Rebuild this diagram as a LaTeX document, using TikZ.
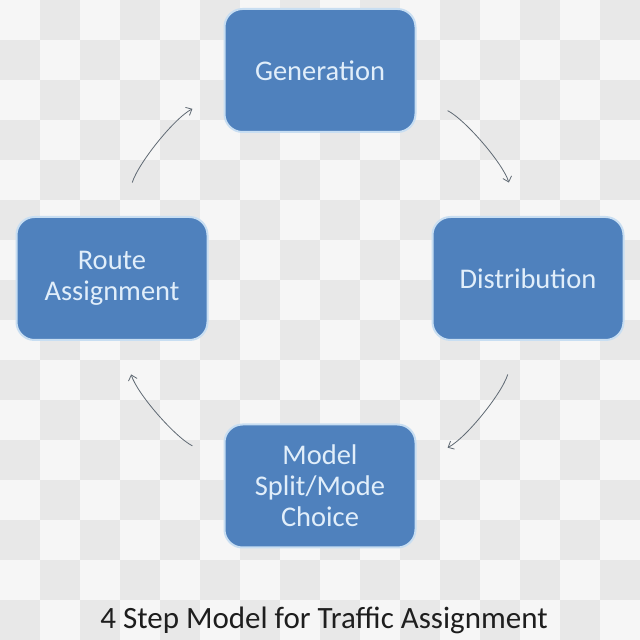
\documentclass[tikz,border=0pt]{standalone}
\usepackage{fontspec}
\setmainfont{Carlito}
\usetikzlibrary{arrows.meta}
\definecolor{boxblue}{RGB}{79,129,189}
\definecolor{boxedge}{RGB}{200,222,242}
\definecolor{boxtext}{RGB}{225,238,250}
\definecolor{flowgray}{RGB}{95,105,115}
\definecolor{titleblack}{RGB}{30,30,30}
\definecolor{checkdark}{RGB}{232,232,232}
\definecolor{checklight}{RGB}{246,246,246}
\tikzset{
    stepbox/.style={rectangle, rounded corners=18pt, fill=boxblue, draw=boxedge,
        line width=2pt, minimum width=191pt, minimum height=123pt, inner sep=0pt,
        align=center, text=boxtext, font=\fontsize{28.5}{31}\selectfont},
    flow/.style={draw=flowgray, line width=0.8pt, -{Straight Barb[length=5pt,width=9pt]},
        shorten <=35pt, shorten >=35pt, looseness=0.886},
}

\begin{document}
\begin{tikzpicture}[x=1pt, y=1pt]
    	% Background:
    	\useasboundingbox (0,0) rectangle (640,640);
    	\fill[checklight] (0,0) rectangle (640,640);
    	\foreach \i in {0,...,15}
    	    \foreach \j in {0,...,15}{
    	        \pgfmathtruncatemacro{\odd}{mod(\i+\j,2)}
    	        \ifnum\odd=1 \fill[checkdark] (40*\i, 600-40*\j) rectangle ++(40,40); \fi
    	    }
    	% Steps and arrows:
    	\node[stepbox] (gen) at (320, 569.5){Generation};
    	\node[stepbox] (dist) at (528, 361.5){Distribution};
    	\node[stepbox] (model) at (320, 154){Model\\Split/Mode\\Choice};
    	\node[stepbox] (route) at (112, 361.5){Route\\Assignment};
    	\draw[flow] (route.81.4) to[out=72.8, in=207.3] (gen.193.7);
    	\draw[flow] (gen.346.3) to[out=-27.3, in=107.2] (dist.98.6);
    	\draw[flow] (dist.261.4) to[out=252.8, in=27.3] (model.13.7);
    	\draw[flow] (model.166.3) to[out=152.7, in=287.2] (route.278.6);
    	\node[anchor=base, text=titleblack, font=\fontsize{31}{35}\selectfont] (title) at (324, 12){4 Step Model for Traffic Assignment};
    \end{tikzpicture}
\end{document}
